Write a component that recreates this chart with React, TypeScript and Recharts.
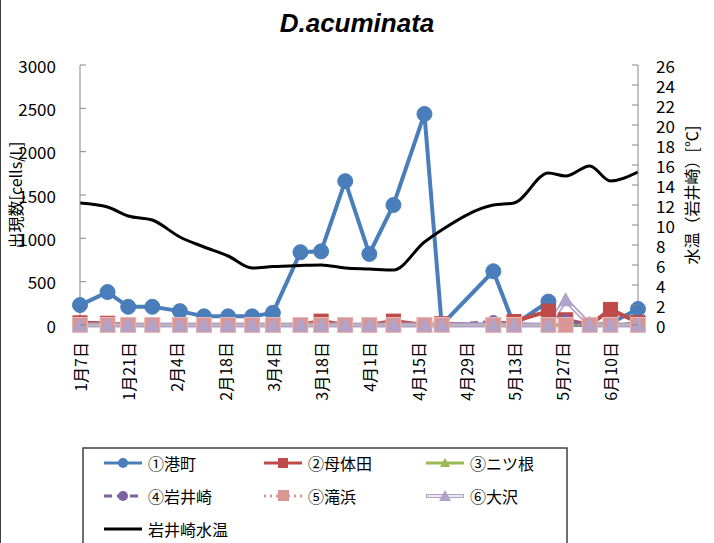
import { ComposedChart, Line, XAxis, YAxis } from 'recharts';

// sampling days, counted from Jan 7
const days = [0, 8, 14, 21, 29, 36, 43, 50, 56, 64, 70, 77, 84, 91, 100, 105, 120, 126, 136, 141, 148, 154, 162];

// cells/L per station
const minatomachi = [230, 380, 210, 210, 160, 100, 100, 100, 140, 840, 850, 1660, 820, 1385, 2435, 0, 620, 0, 270, 0, 0, 20, 185];
const botaida = [25, 20, 0, 0, 0, 0, 0, 0, 0, 0, 45, 0, 0, 45, 0, 15, 0, 40, 160, 60, 0, 180, 30];
const futatsune = [0, 0, 0, 0, 0, 0, 0, 0, 0, 0, 0, 0, 0, 0, 0, 0, 0, 0, 0, 0, 20, 0, 0];
const iwaisaki = [0, 0, 0, 0, 0, 0, 0, 0, 0, 0, 0, 0, 0, 0, 0, 0, 40, 15, 0, 50, 0, 0, 25];
const takihama = [0, 0, 0, 0, 0, 0, 0, 0, 0, 0, 0, 0, 0, 0, 0, 0, 0, 0, 0, 0, 0, 0, 0];
const osawa = [0, 0, 0, 0, 0, 0, 0, 0, 0, 0, 0, 0, 0, 0, 0, 0, 0, 0, 0, 290, 0, 0, 0];

// water temperature at Iwaisaki (°C)
const waterTemp = [12.2, 11.8, 10.9, 10.5, 8.8, 7.8, 6.9, 5.7, 5.85, 5.95, 6.0, 5.7, 5.6, 5.5, 8.3, 9.5, 12.0, 12.2, 15.2, 14.9, 15.9, 14.4, 15.3];

const tickDays = [0, 14, 28, 42, 56, 70, 84, 98, 112, 126, 140, 154];
const tickLabels = ['1月7日', '1月21日', '2月4日', '2月18日', '3月4日', '3月18日', '4月1日', '4月15日', '4月29日', '5月13日', '5月27日', '6月10日'];
const leftTicks = [0, 500, 1000, 1500, 2000, 2500, 3000];
const rightTicks = [0, 2, 4, 6, 8, 10, 12, 14, 16, 18, 20, 22, 24, 26];

const data = days.map((d, i) => ({
  day: d,
  minatomachi: minatomachi[i],
  botaida: botaida[i],
  futatsune: futatsune[i],
  iwaisaki: iwaisaki[i],
  takihama: takihama[i],
  osawa: osawa[i],
  temp: waterTemp[i],
}));

const FONT = '"Noto Sans CJK JP", "Noto Sans", sans-serif';
const AXIS = '#868686';
const PLOT_LEFT = 80;
const PLOT_RIGHT = 638;
const PLOT_BOTTOM = 325;

const BLUE = '#4A7EBB';
const RED = '#BE4B48';
const GREEN = '#98B954';
const PURPLE = '#7D60A0';
const PINK = '#D99694';
const LAVENDER = '#B3A2C7';

const circleDot = (r: number, color: string) => (p: any) =>
  p.cx == null ? null : <circle key={p.index} cx={p.cx} cy={p.cy} r={r} fill={color} stroke={color} strokeWidth={1} />;

const squareDot = (s: number, color: string, edge: string) => (p: any) =>
  p.cx == null ? null : (
    <rect key={p.index} x={p.cx - s / 2} y={p.cy - s / 2} width={s} height={s} fill={color} stroke={edge} strokeWidth={1} />
  );

const triDot = (s: number, color: string) => (p: any) =>
  p.cx == null ? null : (
    <polygon
      key={p.index}
      points={`${p.cx},${p.cy - s / 2} ${p.cx + s / 2},${p.cy + s / 2 - 1} ${p.cx - s / 2},${p.cy + s / 2 - 1}`}
      fill={color}
      stroke={color}
      strokeWidth={1}
    />
  );

const XTick = (p: any) => {
  const i = tickDays.indexOf(p.payload.value);
  return (
    <text
      transform={`translate(${p.x},${PLOT_BOTTOM + 17}) rotate(-90)`}
      textAnchor="end"
      dominantBaseline="central"
      fontSize={16}
      fontFamily={FONT}
      fill="#000"
    >
      {tickLabels[i]}
    </text>
  );
};

const LeftTick = (p: any) => (
  <g>
    <line x1={PLOT_LEFT} x2={PLOT_LEFT + 6} y1={p.y} y2={p.y} stroke={AXIS} />
    <text x={56} y={p.y} textAnchor="end" dominantBaseline="central" fontSize={17} fontFamily={FONT} fill="#000">
      {p.payload.value}
    </text>
  </g>
);

const RightTick = (p: any) => (
  <g>
    <line x1={PLOT_RIGHT - 6} x2={PLOT_RIGHT} y1={p.y} y2={p.y} stroke={AXIS} />
    <text x={656} y={p.y} textAnchor="start" dominantBaseline="central" fontSize={17} fontFamily={FONT} fill="#000">
      {p.payload.value}
    </text>
  </g>
);

function LegendBox() {
  const rows = [16, 49, 82];
  const cols = [22, 182, 344];
  const item = (x: number, y: number, label: string, sample: any) => (
    <g key={label}>
      {sample(x, y)}
      <text x={x + 44} y={y} dominantBaseline="central" fontSize={16} fontFamily={FONT} fill="#000">
        {label}
      </text>
    </g>
  );
  return (
    <svg width={486} height={100} style={{ position: 'absolute', left: 82, top: 447 }}>
      <rect x={1} y={1} width={484} height={110} fill="#fff" stroke="#404040" strokeWidth={1.5} />
      {item(cols[0], rows[0], '①港町', (x: number, y: number) => (
        <g>
          <line x1={x} x2={x + 38} y1={y} y2={y} stroke={BLUE} strokeWidth={3} />
          <circle cx={x + 19} cy={y} r={5} fill={BLUE} />
        </g>
      ))}
      {item(cols[1], rows[0], '②母体田', (x: number, y: number) => (
        <g>
          <line x1={x} x2={x + 38} y1={y} y2={y} stroke={RED} strokeWidth={3} />
          <rect x={x + 14} y={y - 5} width={10} height={10} fill={RED} />
        </g>
      ))}
      {item(cols[2], rows[0], '③ニツ根', (x: number, y: number) => (
        <g>
          <line x1={x} x2={x + 38} y1={y} y2={y} stroke={GREEN} strokeWidth={3} />
          <polygon points={`${x + 19},${y - 5} ${x + 24},${y + 4} ${x + 14},${y + 4}`} fill={GREEN} />
        </g>
      ))}
      {item(cols[0], rows[1], '④岩井崎', (x: number, y: number) => (
        <g>
          <line x1={x} x2={x + 38} y1={y} y2={y} stroke={PURPLE} strokeWidth={3} strokeDasharray="8 5" />
          <circle cx={x + 19} cy={y} r={5} fill={PURPLE} />
        </g>
      ))}
      {item(cols[1], rows[1], '⑤滝浜', (x: number, y: number) => (
        <g>
          <line x1={x} x2={x + 38} y1={y} y2={y} stroke={PINK} strokeWidth={3} strokeDasharray="2 4" />
          <rect x={x + 14} y={y - 6} width={11} height={11} fill={PINK} />
        </g>
      ))}
      {item(cols[2], rows[1], '⑥大沢', (x: number, y: number) => (
        <g>
          <line x1={x} x2={x + 38} y1={y} y2={y} stroke={LAVENDER} strokeWidth={4} />
          <line x1={x + 1} x2={x + 37} y1={y} y2={y} stroke="#fff" strokeWidth={1.5} />
          <polygon points={`${x + 19},${y - 6} ${x + 25},${y + 5} ${x + 13},${y + 5}`} fill={LAVENDER} />
        </g>
      ))}
      {item(cols[0], rows[2], '岩井崎水温', (x: number, y: number) => (
        <line x1={x} x2={x + 38} y1={y} y2={y} stroke="#000" strokeWidth={3} />
      ))}
    </svg>
  );
}

export default function App() {
  return (
    <div style={{ position: 'absolute', left: 0, top: 0, width: 714, height: 543, background: '#fff', overflow: 'hidden' }}>
      <div style={{ position: 'absolute', left: 0, top: 0, width: 1, height: 543, background: '#404040' }} />
      <div
        style={{
          position: 'absolute',
          left: 0,
          width: 714,
          top: 6,
          textAlign: 'center',
          fontFamily: '"Liberation Sans", Arial, sans-serif',
          fontWeight: 'bold',
          fontStyle: 'italic',
          fontSize: 26,
          lineHeight: '34px',
        }}
      >
        <span style={{ position: 'relative', left: 0 }}>D.acuminata</span>
      </div>
      <ComposedChart width={714} height={543} data={data} margin={{ top: 65, right: 0, bottom: 0, left: 0 }}>
        <XAxis
          dataKey="day"
          type="number"
          domain={[0, 162]}
          ticks={tickDays}
          interval={0}
          height={218}
          axisLine={{ stroke: AXIS }}
          tickLine={false}
          tick={XTick}
        />
        <YAxis
          yAxisId="left"
          width={80}
          domain={[0, 3000]}
          ticks={leftTicks}
          interval={0}
          axisLine={{ stroke: AXIS }}
          tickLine={false}
          tick={LeftTick}
          label={{
            value: '出現数[cells/L]',
            angle: -90,
            position: 'insideLeft',
            offset: 16,
            style: { textAnchor: 'middle', fontSize: 16, fontFamily: FONT, fill: '#000' },
          }}
        />
        <YAxis
          yAxisId="right"
          orientation="right"
          width={76}
          domain={[0, 26]}
          ticks={rightTicks}
          interval={0}
          axisLine={{ stroke: AXIS }}
          tickLine={false}
          tick={RightTick}
          label={{
            value: '水温（岩井崎）[℃]',
            angle: -90,
            position: 'insideRight',
            offset: 22,
            style: { textAnchor: 'middle', fontSize: 16, fontFamily: FONT, fill: '#000' },
          }}
        />
        <Line yAxisId="left" dataKey="minatomachi" stroke={BLUE} strokeWidth={4} dot={circleDot(7.5, BLUE)} isAnimationActive={false} />
        <Line yAxisId="left" dataKey="botaida" stroke={RED} strokeWidth={4} dot={squareDot(14, RED, RED)} isAnimationActive={false} />
        <Line yAxisId="left" dataKey="futatsune" stroke={GREEN} strokeWidth={4} dot={triDot(14, GREEN)} isAnimationActive={false} />
        <Line yAxisId="left" dataKey="iwaisaki" stroke={PURPLE} strokeWidth={3} strokeDasharray="8 5" dot={circleDot(6, PURPLE)} isAnimationActive={false} />
        <Line yAxisId="left" dataKey="takihama" stroke={PINK} strokeWidth={3} strokeDasharray="2 4" dot={squareDot(15, PINK, '#E6B9B8')} isAnimationActive={false} />
        <Line yAxisId="left" dataKey="osawa" stroke={LAVENDER} strokeWidth={5} dot={triDot(14, LAVENDER)} isAnimationActive={false} />
        <Line yAxisId="left" dataKey="osawa" stroke="#fff" strokeWidth={1.5} dot={false} isAnimationActive={false} />
        <Line yAxisId="right" type="monotone" dataKey="temp" stroke="#000" strokeWidth={3} dot={false} isAnimationActive={false} />
      </ComposedChart>
      <LegendBox />
    </div>
  );
}
